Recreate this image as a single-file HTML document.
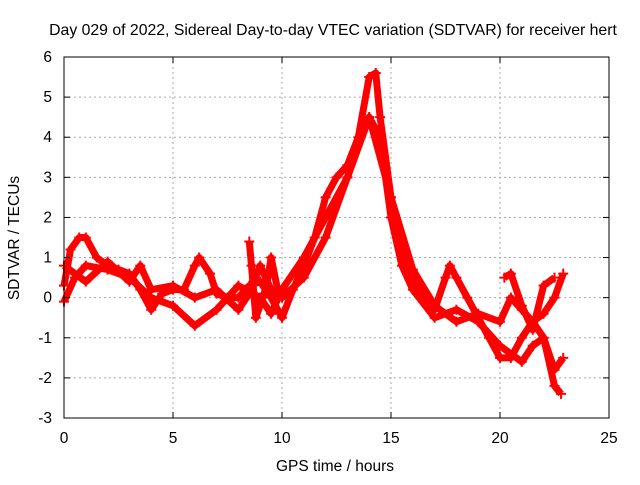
<!DOCTYPE html>
<html><head><meta charset="utf-8"><style>
body{margin:0;background:#fff;width:640px;height:480px;overflow:hidden}
svg text{font-family:"Liberation Sans",sans-serif;font-size:15.5px;fill:#000}
</style></head><body>
<svg id="chart" width="640" height="480" xmlns="http://www.w3.org/2000/svg">
<text x="333" y="35" text-anchor="middle" style="font-size:15.8px">Day 029 of 2022, Sidereal Day-to-day VTEC variation (SDTVAR) for receiver hert</text>
<text x="335" y="471" text-anchor="middle">GPS time / hours</text>
<text transform="translate(19,238) rotate(-90)" text-anchor="middle">SDTVAR / TECUs</text>
<g id="grid"></g>
<g id="marks"></g>
<rect x="64" y="57" width="545" height="361" fill="none" stroke="#000" stroke-width="1"/>
<g id="ticks"></g>
</svg>
<script>
const xTicks=[0,5,10,15,20,25];
const yTicks=[-3,-2,-1,0,1,2,3,4,5,6];
const traceAx=[0,0.3,0.7,1,1.5,2,2.5,3,3.5,4,4.5,5,5.5,6,6.2,6.7,7,7.5,8,8.5,9,9.5,10,10.5,11,11.5,12,12.5,13,13.5,14,14.3,14.5,15,15.5,16,16.5,17,17.5,17.7,18,18.5,19,19.5,20,20.5,21,21.5,22,22.5,22.8];
const traceAy=[0.3,1.2,1.5,1.5,1.0,0.8,0.7,0.6,0.2,-0.3,0.1,0.2,0.2,0.8,1.0,0.6,0.1,0.0,0.0,0.3,0.4,0.0,-0.5,0.2,0.8,1.5,2.5,3.0,3.3,4.0,5.5,5.6,4.5,2.5,1.0,0.6,0.0,-0.3,0.5,0.8,0.5,0.0,-0.5,-1.0,-1.5,-1.5,-1.0,-0.6,-1.0,-2.2,-2.4];
const traceBx=[0,0.5,1,2,3,4,5,6,7,8,9,9.5,10,11,12,13,14,14.5,15,15.5,16,17,18,19,20,21,21.5,22,22.5,22.9];
const traceBy=[-0.1,0.5,0.8,0.7,0.5,0.0,-0.2,-0.7,-0.3,0.3,0.0,-0.4,0.2,1.0,2.0,3.0,4.5,4.0,2.0,0.8,0.2,-0.5,-0.3,-0.6,-1.2,-1.6,-1.2,-1.0,-1.8,-1.5];
const traceCx=[0,1,2,3,3.5,4,5,6,7,8,8.5,9,9.5,10,11,12,13,14,15,16,17,18,19,20,20.5,21,21.5,22,22.5,22.9];
const traceCy=[0.8,0.4,0.9,0.4,0.8,0.2,0.3,0.0,0.2,-0.3,0.1,0.8,0.2,0.0,0.5,1.5,3.0,4.5,2.5,0.7,-0.2,-0.6,-0.4,-0.6,0.0,-0.3,-0.6,-0.4,0.0,0.6];
const traceDx=[8.5,8.6,8.8,9.3,9.5,9.8];
const traceDy=[1.4,0.8,-0.5,0.3,1.0,0.2];
const traceEx=[20.2,20.5,21,21.5,22,22.5];
const traceEy=[0.5,0.6,-0.2,-0.8,0.3,0.5];
const X=v=>64+v*(545/25), Y=v=>418-(v+3)*(361/9);
const NS="http://www.w3.org/2000/svg";
const grid=document.getElementById('grid'),ticks=document.getElementById('ticks'),marks=document.getElementById('marks');
function mk(t,a,p){const e=document.createElementNS(NS,t);for(const k in a)e.setAttribute(k,a[k]);p.appendChild(e);return e;}
xTicks.forEach(v=>{
 if(v>0&&v<25){const g=mk('line',{x1:X(v),x2:X(v),y1:57,y2:418,stroke:'#aaa','stroke-dasharray':'2,3'},grid);
 
 }
 const t=mk('text',{x:X(v),y:443,'text-anchor':'middle'},ticks);t.textContent=v;
 
 
 mk('line',{x1:X(v),x2:X(v),y1:418,y2:412,stroke:'#000'},ticks);
 mk('line',{x1:X(v),x2:X(v),y1:57,y2:63,stroke:'#000'},ticks);
});
yTicks.forEach(v=>{
 if(v>-3&&v<6){const g=mk('line',{x1:64,x2:609,y1:Y(v),y2:Y(v),stroke:'#aaa','stroke-dasharray':'2,3'},grid);
 
 }
 const t=mk('text',{x:52,y:Y(v)+5,'text-anchor':'end'},ticks);t.textContent=v;
 
 
 mk('line',{x1:64,x2:70,y1:Y(v),y2:Y(v),stroke:'#000'},ticks);
 mk('line',{x1:609,x2:603,y1:Y(v),y2:Y(v),stroke:'#000'},ticks);
});
[[traceAx,traceAy,'trace-a'],[traceBx,traceBy,'trace-b'],[traceCx,traceCy,'trace-c'],[traceDx,traceDy,'trace-d'],[traceEx,traceEy,'trace-e']].forEach(([xs,ys,n])=>{
 const pts=xs.map((x,i)=>X(x)+','+Y(ys[i])).join(' ');
 const pl=mk('polyline',{points:pts,fill:'none',stroke:'#f00','stroke-width':7,'stroke-linejoin':'round'},marks);
 
 
 xs.forEach((x,i)=>{
  const cx=X(x),cy=Y(ys[i]);
  const p=mk('path',{d:`M${cx-5},${cy}H${cx+5}M${cx},${cy-5}V${cy+5}`,stroke:'#f00','stroke-width':2},marks);
  
  
 });
});
</script>
</body></html>
